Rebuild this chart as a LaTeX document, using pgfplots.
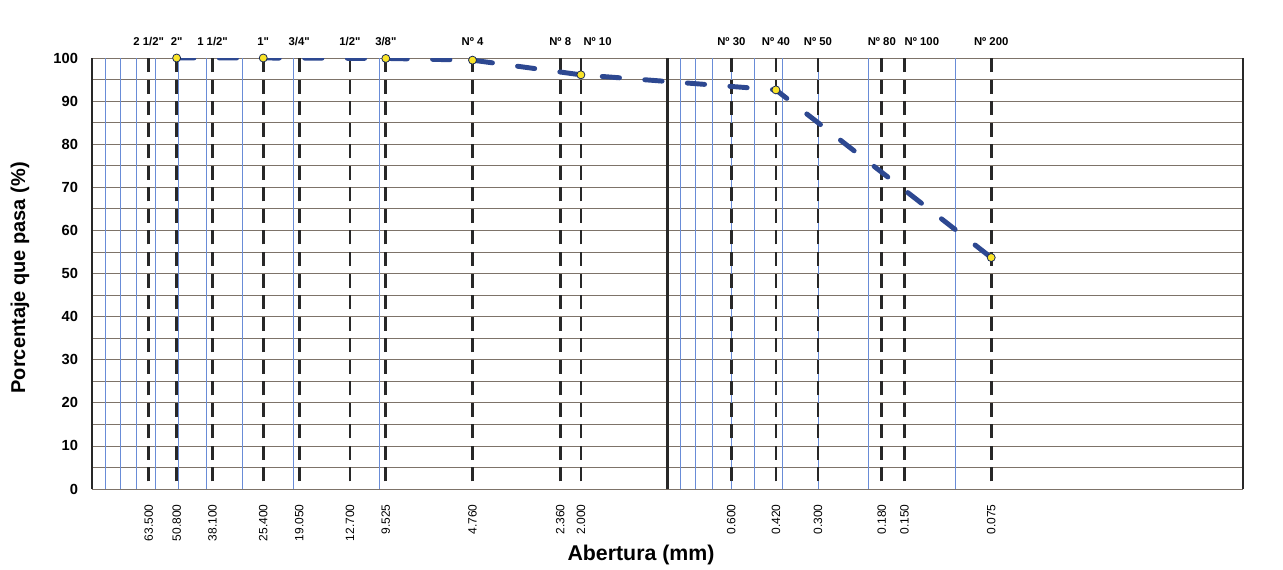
\documentclass[border=0pt]{standalone}
\usepackage{fontspec}
\setmainfont{Liberation Sans}[Ligatures=TeXOff]
\usepackage{pgfplots}
\pgfplotsset{compat=1.18}
\definecolor{hgrid}{RGB}{125,115,105}
\definecolor{vgrid}{RGB}{105,140,215}
\definecolor{curve}{RGB}{45,72,145}
\definecolor{mk}{RGB}{250,228,40}
\definecolor{sieve}{RGB}{40,40,40}
\newcommand{\inch}{\symbol{34}}
\begin{document}
\begin{tikzpicture}
\useasboundingbox (-69pt,-60pt) rectangle (893.25pt,366.75pt);
\begin{axis}[
  at={(0pt,0pt)}, anchor=south west, scale only axis,
  width=863.25pt, height=323.25pt,
  xmode=log, x dir=reverse, xmin=0.01, xmax=100,
  ymin=0, ymax=100,
  ytick={0,10,...,100}, minor y tick num=1,
  ymajorgrids, yminorgrids,
  grid style={hgrid, line width=0.6pt},
  major grid style={hgrid, line width=0.6pt},
  minor grid style={hgrid, line width=0.6pt},
  separate axis lines,
  x axis line style={draw=none},
  y axis line style={sieve, line width=2.2pt},
  xtick={63.5,50.8,38.1,25.4,19.05,12.7,9.525,4.76,2.36,2.0,0.6,0.42,0.3,0.18,0.15,0.075},
  xticklabels={63.500,50.800,38.100,25.400,19.050,12.700,9.525,4.760,2.360,2.000,0.600,0.420,0.300,0.180,0.150,0.075},
  xticklabel style={rotate=90, anchor=east, font=\fontsize{9}{9}\selectfont},
  xticklabel shift=8pt,
  xtick style={draw=none},
  minor x tick style={draw=none},
  extra x ticks={90,80,70,60,50,40,30,20,10,0.9,0.8,0.7,0.6,0.5,0.4,0.3,0.2,0.1},
  extra x tick labels={},
  extra x tick style={grid=major, major grid style={vgrid, line width=0.55pt}, tick style={draw=none}},
  ytick style={draw=none},
  /pgf/number format/assume math mode=true,
  yticklabel style={font=\bfseries\fontsize{11}{11}\selectfont},
  yticklabel shift=7pt,
  xlabel={Abertura (mm)},
  xlabel style={at={(axis description cs:0.477,0)}, anchor=center, yshift=-49.5pt, font=\bfseries\fontsize{16}{16}\selectfont},
  ylabel={Porcentaje que pasa (\%)},
  ylabel style={at={(axis description cs:-0.0626,0.49)}, anchor=center, font=\bfseries\fontsize{15}{15}\selectfont},
]
% 1 mm decade line
\addplot[ycomb, sieve, line width=1.9pt, mark=none] coordinates {(1,100)};
% sieve lines
\addplot[ycomb, sieve, line width=2pt, mark=none, dash pattern=on 10.5pt off 5.66pt, dash phase=10.5pt]
  coordinates {(63.5,100) (50.8,100) (38.1,100) (25.4,100) (19.05,100) (12.7,100) (9.525,100) (4.76,100) (2.36,100) (2.0,100) (0.6,100) (0.42,100) (0.3,100) (0.18,100) (0.15,100) (0.075,100)};
% grading curve
\addplot[curve, line width=3.7pt, line cap=round, dash pattern=on 13pt off 19pt, mark=none]
  coordinates {(50.8,100) (25.4,100) (9.525,99.9) (4.76,99.5) (2.0,96.1) (0.42,92.6) (0.075,53.7)};
\addplot[only marks, mark=*, mark size=3pt, mark options={fill=mk, draw=curve!60!black, line width=0.6pt}]
  coordinates {(50.8,100) (25.4,100) (9.525,99.9) (4.76,99.5) (2.0,96.1) (0.42,92.6) (0.075,53.7)};
\end{axis}
\begin{axis}[
  at={(0pt,0pt)}, anchor=south west, scale only axis,
  width=863.25pt, height=323.25pt,
  xmode=log, x dir=reverse, xmin=0.01, xmax=100,
  ymin=0, ymax=100,
  axis x line*=top, hide y axis, axis line style={draw=none},
  xtick={63.5,50.8,38.1,25.4,19.05,12.7,9.525,4.76,2.36,2.0,0.6,0.42,0.3,0.18,0.15,0.075},
  xticklabels={2 1/2\inch,2\inch,1 1/2\inch,1\inch,3/4\inch,1/2\inch,3/8\inch,Nº 4,Nº 8,\hspace*{25pt}Nº 10,Nº 30,Nº 40,Nº 50,Nº 80,\hspace*{26pt}Nº 100,Nº 200},
  xtick style={draw=none}, minor x tick style={draw=none},
  xticklabel style={anchor=base, font=\bfseries\fontsize{8.5}{8.5}\selectfont, yshift=9.5pt},
]
\end{axis}
\end{tikzpicture}
\end{document}
